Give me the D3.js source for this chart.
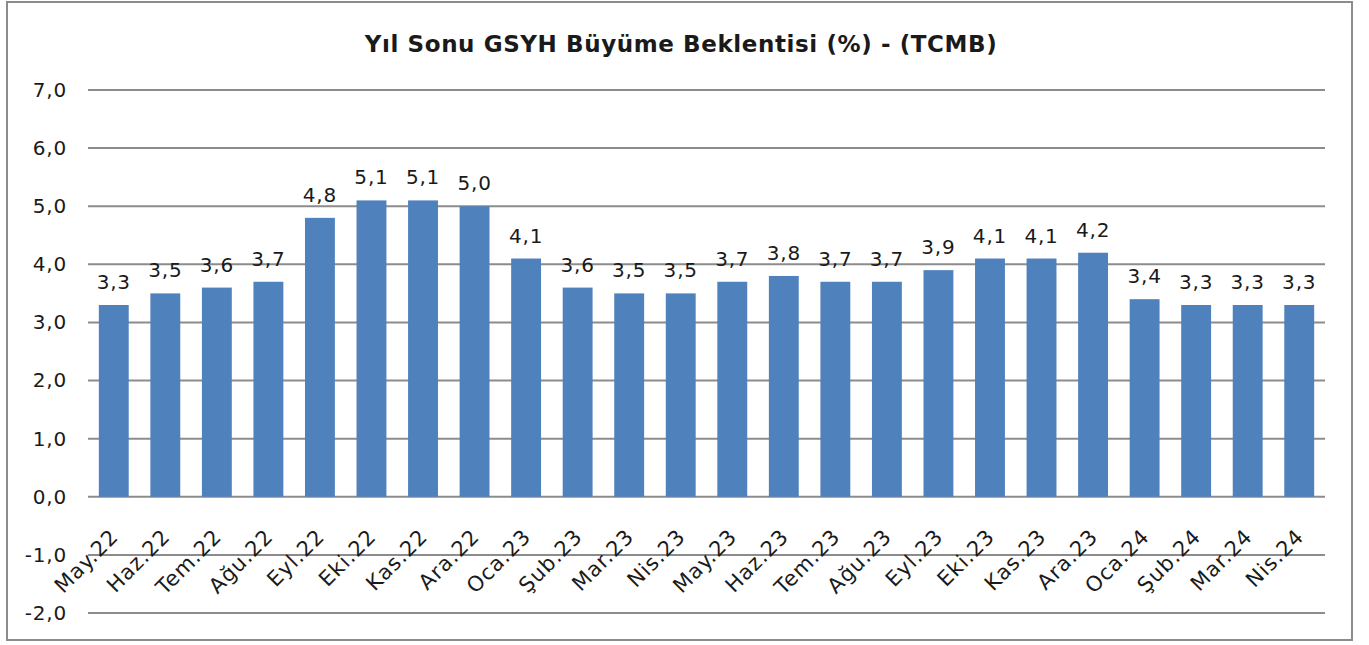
<!DOCTYPE html>
<html>
<head>
<meta charset="utf-8">
<script src="https://cdn.jsdelivr.net/npm/d3@7"></script>
<style>
  body { margin: 0; background: #fff; }
  svg text { font-family: "DejaVu Sans", sans-serif; fill: #1a1a1a; }
</style>
</head>
<body>
<svg id="chart" width="1369" height="645"></svg>
<script>
"use strict"

const title = "Yıl Sonu GSYH Büyüme Beklentisi (%) - (TCMB)"
const categories = ["May.22","Haz.22","Tem.22","Ağu.22","Eyl.22","Eki.22","Kas.22","Ara.22",
  "Oca.23","Şub.23","Mar.23","Nis.23","May.23","Haz.23","Tem.23","Ağu.23","Eyl.23","Eki.23",
  "Kas.23","Ara.23","Oca.24","Şub.24","Mar.24","Nis.24"]
const values = [3.3,3.5,3.6,3.7,4.8,5.1,5.1,5.0,4.1,3.6,3.5,3.5,3.7,3.8,3.7,3.7,3.9,4.1,4.1,4.2,3.4,3.3,3.3,3.3]
const yTicks = [-2,-1,0,1,2,3,4,5,6,7]

const svg = d3.select("#chart")
const margins = {left: 88, right: 44, top: 90}
const width = 1369 - margins.left - margins.right

const fmt = v => d3.format(".1f")(v).replace(".", ",").replace("−", "-")

// outer frame
svg.append("rect")
  .attr("x", 7).attr("y", 2).attr("width", 1345).attr("height", 638)
  .attr("fill", "#fff").attr("stroke", "#8c8c8c").attr("stroke-width", 2)

svg.append("text")
  .attr("x", 681).attr("y", 52)
  .attr("text-anchor", "middle")
  .style("font-size", "23px").style("font-weight", "bold")
  .style("letter-spacing", "0.6px")
  .text(title)

const x = d3.scaleBand().domain(categories).range([0, width]).paddingInner(0.42).paddingOuter(0.21)
const y = d3.scaleLinear().domain([-2, 7]).range([613 - margins.top, 0])

const g = svg.append("g").attr("transform", "translate(" + margins.left + "," + margins.top + ")")

// gridlines
g.selectAll(".grid").data(yTicks).enter()
  .append("line")
  .attr("x1", 0).attr("x2", width)
  .attr("y1", d => y(d)).attr("y2", d => y(d))
  .attr("stroke", "#8c8c8c").attr("stroke-width", 2)

// y axis labels
const yAxis = d3.axisLeft(y).tickValues(yTicks).tickFormat(fmt).tickSize(0).tickPadding(21)
g.append("g").call(yAxis)
  .call(a => a.select(".domain").remove())
  .selectAll("text")
  .style("font-size", "20px")
  .style("letter-spacing", "0.8px")
  .style("font-family", "DejaVu Sans, sans-serif")
  .attr("fill", "#1a1a1a")

// bars
g.selectAll(".bar").data(values).enter()
  .append("rect")
  .attr("class", "bar")
  .attr("x", (d, i) => x(categories[i]))
  .attr("width", x.bandwidth())
  .attr("y", d => y(Math.max(0, d)))
  .attr("height", d => Math.abs(y(d) - y(0)))
  .attr("fill", "#4f81bd")

// value labels
g.selectAll(".lbl").data(values).enter()
  .append("text")
  .attr("x", (d, i) => x(categories[i]) + x.bandwidth() / 2)
  .attr("y", d => y(d) - 16)
  .attr("text-anchor", "middle")
  .style("font-size", "20px")
  .style("letter-spacing", "0.8px")
  .text(fmt)

// x axis labels
const xAxis = d3.axisBottom(x).tickSize(0).tickPadding(0)
g.append("g")
  .attr("transform", "translate(0," + y(0) + ")")
  .call(xAxis)
  .call(a => a.select(".domain").remove())
  .selectAll("text")
  .style("font-size", "21px")
  .style("letter-spacing", "1px")
  .style("font-family", "DejaVu Sans, sans-serif")
  .attr("fill", "#1a1a1a")
  .attr("text-anchor", "end")
  .attr("dy", "0")
  .attr("transform", "translate(6,41) rotate(-45)")
</script>
</body>
</html>
